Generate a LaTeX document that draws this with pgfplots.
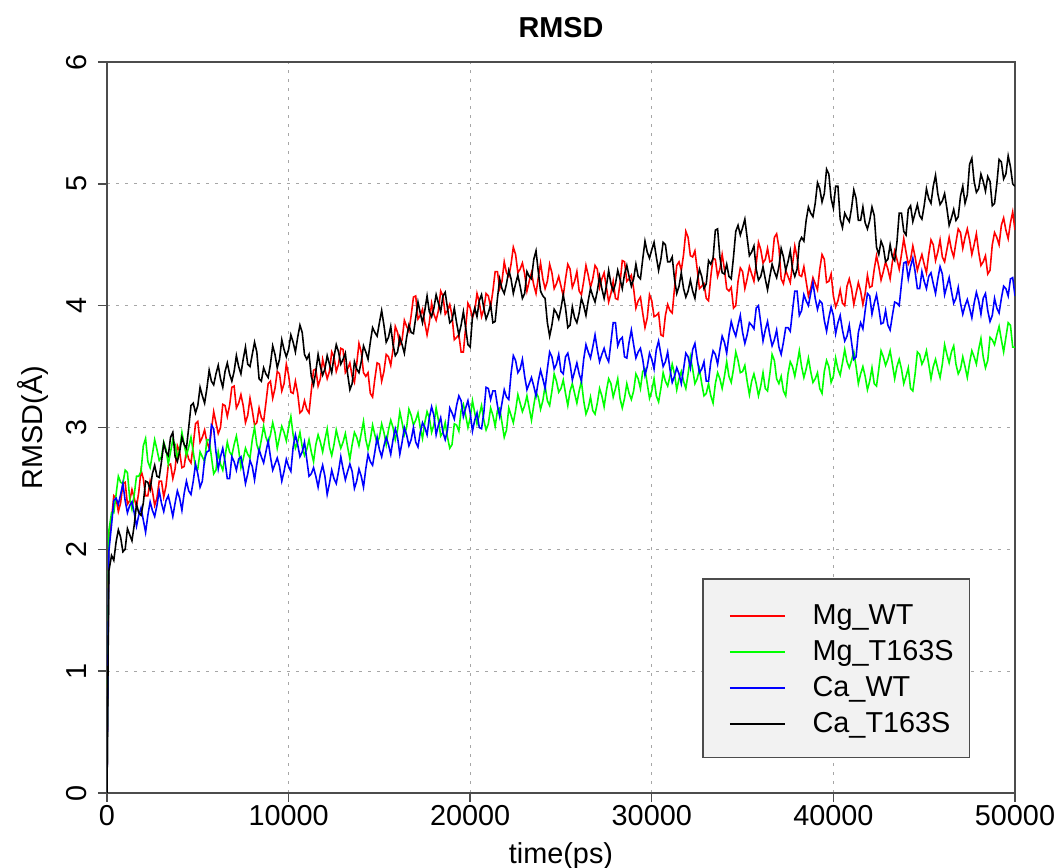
\documentclass[border=0pt]{standalone}
\usepackage{fontspec}
\setmainfont{Liberation Sans}
\usepackage{pgfplots}
\pgfplotsset{compat=1.18}
\newcommand\fsz{\fontsize{8.2pt}{9.84pt}\selectfont}
\begin{document}
\begin{tikzpicture}
\begin{axis}[
  at={(1.07cm,0.75cm)}, anchor=south west,
  scale only axis, width=9.08cm, height=7.31cm,
  xmin=0, xmax=50000, ymin=0, ymax=6,
  xtick={0,10000,20000,30000,40000,50000},
  ytick={0,1,2,3,4,5,6},
  scaled ticks=false,
  xticklabel={\pgfmathprintnumber[assume math mode=true,fixed,precision=0,1000 sep={}]{\tick}},
  yticklabel={\pgfmathprintnumber[assume math mode=true,fixed,precision=0]{\tick}},
  xtick pos=bottom, ytick pos=left,
  tick align=outside, major tick length=0.9mm,
  tick style={black!70, line width=0.4pt},
  axis line style={black!70, line width=0.4pt},
  xticklabel style={font=\fsz, anchor=north, inner sep=0pt, yshift=-0.3mm},
  yticklabel style={font=\fsz, rotate=90, anchor=south, inner sep=0pt, yshift=1.1mm},
  grid=major,
  major grid style={gray!70, line width=0.35pt, dash pattern=on 0.3mm off 0.6mm},
  title={RMSD},
  every axis title/.style={at={(axis description cs:0.5,1.0342)}, anchor=base, font=\fsz\bfseries},
  xlabel={time(ps)},
  xlabel style={at={(axis description cs:0.5,-0.0971)}, anchor=base, font=\fsz},
  ylabel={RMSD(Å)},
  ylabel style={at={(axis description cs:-0.0705,0.5)}, rotate=0, anchor=base, font=\fsz},
  legend style={at={(axis description cs:0.6564,0.2927)}, anchor=north west,
    fill=black!5, draw=black!70, line width=0.4pt,
    inner xsep=1.6mm, inner ysep=1.86mm, outer sep=0pt,
    row sep=0.3mm, column sep=2.7mm, font=\fsz,
    nodes={inner sep=0pt, text height=2.7mm, text depth=0.6mm, anchor=base west}},
  legend image code/.code={\path (0,0); \draw[#1, line width=0.5pt] (1mm,0.9mm) -- (6.5mm,0.9mm);},
  every axis plot/.append style={line width=0.45pt},
]
% Mg_WT
\addplot[red] coordinates {(0,0) (100,2.05) (250,2.25) (375,2.44) (500,2.42) (625,2.31) (750,2.38) (875,2.54) (1000,2.55) (1125,2.37) (1250,2.40) (1375,2.49) (1500,2.42) (1625,2.35) (1750,2.47) (1875,2.65) (2000,2.58) (2125,2.44) (2250,2.44) (2375,2.56) (2500,2.48) (2625,2.36) (2750,2.42) (2875,2.56) (3000,2.56) (3125,2.43) (3250,2.52) (3375,2.69) (3500,2.70) (3625,2.58) (3750,2.66) (3875,2.85) (4000,2.80) (4125,2.67) (4250,2.68) (4375,2.81) (4500,2.74) (4625,2.71) (4750,2.86) (4875,3.03) (5000,3.05) (5125,2.88) (5250,2.92) (5375,2.98) (5500,2.88) (5625,2.83) (5750,2.98) (5875,3.13) (6000,3.04) (6125,2.95) (6250,3.00) (6375,3.19) (6500,3.18) (6625,3.09) (6750,3.18) (6875,3.33) (7000,3.34) (7125,3.16) (7250,3.20) (7375,3.27) (7500,3.18) (7625,3.04) (7750,3.10) (7875,3.24) (8000,3.14) (8125,3.02) (8250,3.04) (8375,3.16) (8500,3.08) (8625,3.05) (8750,3.20) (8875,3.36) (9000,3.38) (9125,3.24) (9250,3.32) (9375,3.46) (9500,3.44) (9625,3.30) (9750,3.36) (9875,3.52) (10000,3.43) (10125,3.29) (10250,3.28) (10375,3.38) (10500,3.28) (10625,3.12) (10750,3.14) (10875,3.22) (11000,3.15) (11125,3.12) (11250,3.30) (11375,3.47) (11500,3.48) (11625,3.34) (11750,3.40) (11875,3.56) (12000,3.48) (12125,3.40) (12250,3.46) (12375,3.62) (12500,3.58) (12625,3.46) (12750,3.52) (12875,3.65) (13000,3.64) (13125,3.45) (13250,3.48) (13375,3.53) (13500,3.42) (13625,3.37) (13750,3.52) (13875,3.69) (14000,3.62) (14125,3.45) (14250,3.42) (14375,3.45) (14500,3.28) (14625,3.25) (14750,3.40) (14875,3.53) (15000,3.52) (15125,3.38) (15250,3.46) (15375,3.60) (15500,3.58) (15625,3.51) (15750,3.64) (15875,3.83) (16000,3.78) (16125,3.68) (16250,3.72) (16375,3.88) (16500,3.83) (16625,3.79) (16750,3.92) (16875,4.07) (17000,4.08) (17125,3.89) (17250,3.92) (17375,3.97) (17500,3.86) (17625,3.76) (17750,3.86) (17875,4.02) (18000,3.93) (18125,3.88) (18250,3.96) (18375,4.12) (18500,4.08) (18625,3.93) (18750,3.96) (18875,4.01) (19000,3.92) (19125,3.72) (19250,3.74) (19375,3.76) (19500,3.62) (19625,3.62) (19750,3.82) (19875,4.02) (20000,3.98) (20125,3.90) (20250,3.96) (20375,4.10) (20500,4.03) (20625,3.91) (20750,3.97) (20875,4.10) (21000,4.08) (21125,3.99) (21250,4.12) (21375,4.28) (21500,4.28) (21625,4.14) (21750,4.20) (21875,4.36) (22000,4.27) (22125,4.24) (22250,4.34) (22375,4.48) (22500,4.42) (22625,4.27) (22750,4.30) (22875,4.35) (23000,4.26) (23125,4.12) (23250,4.20) (23375,4.27) (23500,4.17) (23625,4.10) (23750,4.23) (23875,4.35) (24000,4.22) (24125,4.14) (24250,4.20) (24375,4.34) (24500,4.27) (24625,4.14) (24750,4.18) (24875,4.24) (25000,4.16) (25125,4.08) (25250,4.22) (25375,4.34) (25500,4.30) (25625,4.15) (25750,4.20) (25875,4.28) (26000,4.12) (26125,4.09) (26250,4.20) (26375,4.33) (26500,4.25) (26625,4.15) (26750,4.22) (26875,4.33) (27000,4.30) (27125,4.15) (27250,4.22) (27375,4.27) (27500,4.15) (27625,4.03) (27750,4.10) (27875,4.20) (28000,4.06) (28125,4.05) (28250,4.18) (28375,4.37) (28500,4.36) (28625,4.20) (28750,4.22) (28875,4.25) (29000,4.14) (29125,3.98) (29250,4.04) (29375,4.07) (29500,3.94) (29625,3.82) (29750,3.90) (29875,4.09) (30000,4.04) (30125,3.91) (30250,3.92) (30375,3.94) (30500,3.76) (30625,3.75) (30750,3.92) (30875,4.01) (31000,3.96) (31125,3.94) (31250,4.14) (31375,4.33) (31500,4.36) (31625,4.29) (31750,4.42) (31875,4.61) (32000,4.56) (32125,4.41) (32250,4.40) (32375,4.45) (32500,4.30) (32625,4.14) (32750,4.16) (32875,4.18) (33000,4.06) (33125,4.04) (33250,4.24) (33375,4.39) (33500,4.38) (33625,4.24) (33750,4.30) (33875,4.42) (34000,4.30) (34125,4.14) (34250,4.12) (34375,4.15) (34500,3.98) (34625,4.00) (34750,4.20) (34875,4.31) (35000,4.28) (35125,4.14) (35250,4.22) (35375,4.32) (35500,4.26) (35625,4.20) (35750,4.34) (35875,4.52) (36000,4.46) (36125,4.35) (36250,4.38) (36375,4.47) (36500,4.36) (36625,4.37) (36750,4.56) (36875,4.59) (37000,4.48) (37125,4.22) (37250,4.18) (37375,4.29) (37500,4.24) (37625,4.19) (37750,4.34) (37875,4.49) (38000,4.40) (38125,4.25) (38250,4.24) (38375,4.32) (38500,4.20) (38625,4.08) (38750,4.14) (38875,4.23) (39000,4.18) (39125,4.13) (39250,4.30) (39375,4.42) (39500,4.38) (39625,4.19) (39750,4.20) (39875,4.26) (40000,4.08) (40125,3.99) (40250,4.04) (40375,4.13) (40500,4.02) (40625,4.00) (40750,4.16) (40875,4.22) (41000,4.14) (41125,4.01) (41250,4.10) (41375,4.19) (41500,4.12) (41625,4.01) (41750,4.10) (41875,4.25) (42000,4.15) (42125,4.16) (42250,4.30) (42375,4.41) (42500,4.32) (42625,4.21) (42750,4.28) (42875,4.36) (43000,4.30) (43125,4.22) (43250,4.36) (43375,4.45) (43500,4.38) (43625,4.30) (43750,4.42) (43875,4.55) (44000,4.44) (44125,4.34) (44250,4.38) (44375,4.49) (44500,4.40) (44625,4.29) (44750,4.36) (44875,4.42) (45000,4.34) (45125,4.27) (45250,4.42) (45375,4.54) (45500,4.50) (45625,4.37) (45750,4.44) (45875,4.54) (46000,4.40) (46125,4.36) (46250,4.46) (46375,4.56) (46500,4.46) (46625,4.40) (46750,4.52) (46875,4.63) (47000,4.60) (47125,4.47) (47250,4.56) (47375,4.63) (47500,4.54) (47625,4.42) (47750,4.50) (47875,4.59) (48000,4.44) (48125,4.33) (48250,4.36) (48375,4.41) (48500,4.26) (48625,4.29) (48750,4.50) (48875,4.60) (49000,4.56) (49125,4.50) (49250,4.66) (49375,4.72) (49500,4.62) (49625,4.55) (49750,4.68) (49875,4.77) (50000,4.62)};
\addlegendentry{Mg\_WT}
% Mg_T163S
\addplot[green] coordinates {(0,0) (100,2.15) (250,2.30) (375,2.30) (500,2.45) (625,2.60) (750,2.55) (875,2.54) (1000,2.65) (1125,2.63) (1250,2.42) (1375,2.33) (1500,2.45) (1625,2.60) (1750,2.60) (1875,2.64) (2000,2.85) (2125,2.91) (2250,2.72) (2375,2.67) (2500,2.78) (2625,2.90) (2750,2.82) (2875,2.73) (3000,2.76) (3125,2.88) (3250,2.82) (3375,2.70) (3500,2.80) (3625,2.90) (3750,2.86) (3875,2.75) (4000,2.82) (4125,2.96) (4250,2.86) (4375,2.77) (4500,2.84) (4625,2.92) (4750,2.80) (4875,2.67) (5000,2.66) (5125,2.80) (5250,2.76) (5375,2.72) (5500,2.90) (5625,2.90) (5750,2.76) (5875,2.62) (6000,2.65) (6125,2.80) (6250,2.70) (6375,2.65) (6500,2.76) (6625,2.88) (6750,2.80) (6875,2.77) (7000,2.86) (7125,2.93) (7250,2.82) (7375,2.67) (7500,2.74) (7625,2.83) (7750,2.78) (7875,2.75) (8000,2.90) (8125,3.00) (8250,2.86) (8375,2.80) (8500,2.90) (8625,3.01) (8750,2.92) (8875,2.87) (9000,2.94) (9125,3.04) (9250,2.96) (9375,2.83) (9500,2.92) (9625,3.01) (9750,2.96) (9875,2.89) (10000,3.00) (10125,3.09) (10250,2.94) (10375,2.83) (10500,2.88) (10625,2.96) (10750,2.84) (10875,2.77) (11000,2.82) (11125,2.90) (11250,2.80) (11375,2.72) (11500,2.86) (11625,2.94) (11750,2.88) (11875,2.80) (12000,2.90) (12125,2.99) (12250,2.84) (12375,2.77) (12500,2.86) (12625,2.98) (12750,2.90) (12875,2.83) (13000,2.88) (13125,2.95) (13250,2.84) (13375,2.74) (13500,2.86) (13625,2.96) (13750,2.92) (13875,2.85) (14000,2.95) (14125,3.05) (14250,2.90) (14375,2.82) (14500,2.90) (14625,3.02) (14750,2.94) (14875,2.87) (15000,2.92) (15125,3.03) (15250,2.96) (15375,2.86) (15500,2.98) (15625,3.06) (15750,3.00) (15875,2.90) (16000,2.98) (16125,3.13) (16250,3.04) (16375,2.94) (16500,3.00) (16625,3.15) (16750,3.10) (16875,3.02) (17000,3.06) (17125,3.12) (17250,3.00) (17375,2.91) (17500,3.04) (17625,3.13) (17750,3.08) (17875,2.96) (18000,3.02) (18125,3.16) (18250,3.06) (18375,2.93) (18500,2.96) (18625,3.04) (18750,2.92) (18875,2.83) (19000,2.86) (19125,3.03) (19250,3.02) (19375,2.97) (19500,3.14) (19625,3.19) (19750,3.10) (19875,3.00) (20000,3.08) (20125,3.22) (20250,3.12) (20375,3.03) (20500,3.10) (20625,3.18) (20750,3.06) (20875,2.98) (21000,3.03) (21125,3.16) (21250,3.10) (21375,3.01) (21500,3.14) (21625,3.16) (21750,3.04) (21875,2.92) (22000,2.98) (22125,3.16) (22250,3.10) (22375,3.04) (22500,3.14) (22625,3.27) (22750,3.20) (22875,3.13) (23000,3.18) (23125,3.26) (23250,3.16) (23375,3.06) (23500,3.18) (23625,3.29) (23750,3.25) (23875,3.15) (24000,3.22) (24125,3.34) (24250,3.22) (24375,3.18) (24500,3.30) (24625,3.44) (24750,3.38) (24875,3.29) (25000,3.32) (25125,3.39) (25250,3.28) (25375,3.18) (25500,3.30) (25625,3.36) (25750,3.28) (25875,3.20) (26000,3.30) (26125,3.38) (26250,3.22) (26375,3.11) (26500,3.16) (26625,3.25) (26750,3.14) (26875,3.11) (27000,3.20) (27125,3.32) (27250,3.26) (27375,3.17) (27500,3.30) (27625,3.40) (27750,3.36) (27875,3.25) (28000,3.32) (28125,3.40) (28250,3.24) (28375,3.16) (28500,3.24) (28625,3.36) (28750,3.28) (28875,3.23) (29000,3.30) (29125,3.44) (29250,3.40) (29375,3.32) (29500,3.46) (29625,3.48) (29750,3.36) (29875,3.24) (30000,3.30) (30125,3.40) (30250,3.26) (30375,3.21) (30500,3.32) (30625,3.45) (30750,3.38) (30875,3.34) (31000,3.42) (31125,3.52) (31250,3.44) (31375,3.31) (31500,3.40) (31625,3.46) (31750,3.38) (31875,3.32) (32000,3.44) (32125,3.58) (32250,3.48) (32375,3.36) (32500,3.40) (32625,3.48) (32750,3.36) (32875,3.26) (33000,3.28) (33125,3.36) (33250,3.26) (33375,3.20) (33500,3.36) (33625,3.45) (33750,3.40) (33875,3.32) (34000,3.42) (34125,3.54) (34250,3.42) (34375,3.37) (34500,3.48) (34625,3.62) (34750,3.55) (34875,3.45) (35000,3.46) (35125,3.51) (35250,3.38) (35375,3.27) (35500,3.38) (35625,3.44) (35750,3.36) (35875,3.26) (36000,3.34) (36125,3.45) (36250,3.32) (36375,3.30) (36500,3.44) (36625,3.60) (36750,3.55) (36875,3.40) (37000,3.36) (37125,3.42) (37250,3.30) (37375,3.26) (37500,3.44) (37625,3.54) (37750,3.50) (37875,3.42) (38000,3.52) (38125,3.63) (38250,3.50) (38375,3.41) (38500,3.48) (38625,3.57) (38750,3.46) (38875,3.37) (39000,3.40) (39125,3.45) (39250,3.32) (39375,3.28) (39500,3.46) (39625,3.55) (39750,3.50) (39875,3.37) (40000,3.42) (40125,3.57) (40250,3.48) (40375,3.43) (40500,3.53) (40625,3.64) (40750,3.54) (40875,3.49) (41000,3.55) (41125,3.62) (41250,3.50) (41375,3.36) (41500,3.44) (41625,3.50) (41750,3.42) (41875,3.31) (42000,3.38) (42125,3.49) (42250,3.36) (42375,3.34) (42500,3.48) (42625,3.63) (42750,3.58) (42875,3.51) (43000,3.56) (43125,3.63) (43250,3.52) (43375,3.40) (43500,3.50) (43625,3.56) (43750,3.48) (43875,3.36) (44000,3.42) (44125,3.49) (44250,3.32) (44375,3.30) (44500,3.44) (44625,3.62) (44750,3.60) (44875,3.52) (45000,3.56) (45125,3.63) (45250,3.52) (45375,3.40) (45500,3.50) (45625,3.56) (45750,3.48) (45875,3.41) (46000,3.52) (46125,3.68) (46250,3.60) (46375,3.53) (46500,3.62) (46625,3.67) (46750,3.52) (46875,3.44) (47000,3.48) (47125,3.58) (47250,3.50) (47375,3.41) (47500,3.53) (47625,3.63) (47750,3.58) (47875,3.52) (48000,3.64) (48125,3.73) (48250,3.58) (48375,3.49) (48500,3.55) (48625,3.74) (48750,3.72) (48875,3.68) (49000,3.76) (49125,3.83) (49250,3.72) (49375,3.62) (49500,3.74) (49625,3.86) (49750,3.84) (49875,3.66) (50000,3.66)};
\addlegendentry{Mg\_T163S}
% Ca_WT
\addplot[blue] coordinates {(0,0) (100,1.98) (250,2.20) (375,2.40) (500,2.42) (625,2.37) (750,2.45) (875,2.54) (1000,2.40) (1125,2.30) (1250,2.36) (1375,2.39) (1500,2.30) (1625,2.19) (1750,2.28) (1875,2.34) (2000,2.24) (2125,2.14) (2250,2.28) (2375,2.39) (2500,2.32) (2625,2.27) (2750,2.36) (2875,2.48) (3000,2.38) (3125,2.31) (3250,2.40) (3375,2.44) (3500,2.36) (3625,2.27) (3750,2.38) (3875,2.48) (4000,2.42) (4125,2.32) (4250,2.46) (4375,2.56) (4500,2.48) (4625,2.45) (4750,2.56) (4875,2.70) (5000,2.62) (5125,2.51) (5250,2.56) (5375,2.74) (5500,2.80) (5625,2.81) (5750,3.02) (5875,2.99) (6000,2.80) (6125,2.66) (6250,2.76) (6375,2.83) (6500,2.72) (6625,2.58) (6750,2.58) (6875,2.76) (7000,2.72) (7125,2.65) (7250,2.74) (7375,2.76) (7500,2.66) (7625,2.54) (7750,2.62) (7875,2.73) (8000,2.68) (8125,2.57) (8250,2.70) (8375,2.82) (8500,2.76) (8625,2.71) (8750,2.80) (8875,2.89) (9000,2.76) (9125,2.65) (9250,2.70) (9375,2.75) (9500,2.68) (9625,2.56) (9750,2.64) (9875,2.74) (10000,2.68) (10125,2.64) (10250,2.84) (10375,2.94) (10500,2.86) (10625,2.76) (10750,2.80) (10875,2.88) (11000,2.74) (11125,2.60) (11250,2.62) (11375,2.67) (11500,2.60) (11625,2.51) (11750,2.62) (11875,2.69) (12000,2.60) (12125,2.45) (12250,2.54) (12375,2.65) (12500,2.58) (12625,2.54) (12750,2.64) (12875,2.76) (13000,2.66) (13125,2.57) (13250,2.64) (13375,2.70) (13500,2.64) (13625,2.50) (13750,2.56) (13875,2.66) (14000,2.60) (14125,2.51) (14250,2.66) (14375,2.78) (14500,2.72) (14625,2.69) (14750,2.80) (14875,2.92) (15000,2.82) (15125,2.76) (15250,2.85) (15375,2.92) (15500,2.86) (15625,2.78) (15750,2.90) (15875,2.99) (16000,2.92) (16125,2.78) (16250,2.88) (16375,3.00) (16500,2.94) (16625,2.85) (16750,2.90) (16875,3.00) (17000,2.88) (17125,2.84) (17250,2.96) (17375,3.04) (17500,3.00) (17625,2.94) (17750,3.08) (17875,3.17) (18000,3.10) (18125,2.94) (18250,3.02) (18375,3.08) (18500,2.96) (18625,2.90) (18750,2.98) (18875,3.16) (19000,3.12) (19125,3.07) (19250,3.18) (19375,3.26) (19500,3.22) (19625,3.09) (19750,3.16) (19875,3.22) (20000,3.12) (20125,2.97) (20250,3.06) (20375,3.12) (20500,3.00) (20625,2.99) (20750,3.12) (20875,3.33) (21000,3.32) (21125,3.23) (21250,3.30) (21375,3.30) (21500,3.18) (21625,3.09) (21750,3.20) (21875,3.31) (22000,3.25) (22125,3.23) (22250,3.44) (22375,3.59) (22500,3.55) (22625,3.45) (22750,3.48) (22875,3.56) (23000,3.42) (23125,3.31) (23250,3.36) (23375,3.41) (23500,3.34) (23625,3.26) (23750,3.38) (23875,3.47) (24000,3.40) (24125,3.32) (24250,3.48) (24375,3.62) (24500,3.58) (24625,3.48) (24750,3.52) (24875,3.60) (25000,3.46) (25125,3.44) (25250,3.58) (25375,3.61) (25500,3.52) (25625,3.39) (25750,3.46) (25875,3.53) (26000,3.44) (26125,3.38) (26250,3.56) (26375,3.68) (26500,3.62) (26625,3.57) (26750,3.66) (26875,3.76) (27000,3.64) (27125,3.54) (27250,3.60) (27375,3.65) (27500,3.58) (27625,3.54) (27750,3.70) (27875,3.86) (28000,3.86) (28125,3.67) (28250,3.72) (28375,3.74) (28500,3.58) (28625,3.57) (28750,3.70) (28875,3.80) (29000,3.68) (29125,3.57) (29250,3.62) (29375,3.65) (29500,3.56) (29625,3.43) (29750,3.50) (29875,3.61) (30000,3.56) (30125,3.48) (30250,3.64) (30375,3.71) (30500,3.60) (30625,3.50) (30750,3.54) (30875,3.62) (31000,3.48) (31125,3.37) (31250,3.42) (31375,3.49) (31500,3.44) (31625,3.36) (31750,3.48) (31875,3.61) (32000,3.58) (32125,3.49) (32250,3.64) (32375,3.69) (32500,3.56) (32625,3.45) (32750,3.48) (32875,3.54) (33000,3.38) (33125,3.38) (33250,3.54) (33375,3.63) (33500,3.60) (33625,3.52) (33750,3.64) (33875,3.75) (34000,3.70) (34125,3.61) (34250,3.76) (34375,3.87) (34500,3.80) (34625,3.75) (34750,3.84) (34875,3.92) (35000,3.78) (35125,3.69) (35250,3.76) (35375,3.86) (35500,3.84) (35625,3.81) (35750,3.98) (35875,4.00) (36000,3.86) (36125,3.71) (36250,3.80) (36375,3.87) (36500,3.76) (36625,3.67) (36750,3.72) (36875,3.80) (37000,3.66) (37125,3.60) (37250,3.70) (37375,3.82) (37500,3.82) (37625,3.79) (37750,3.96) (37875,4.12) (38000,4.12) (38125,3.92) (38250,3.96) (38375,4.09) (38500,4.04) (38625,4.00) (38750,4.10) (38875,4.19) (39000,4.06) (39125,3.97) (39250,4.04) (39375,4.02) (39500,3.88) (39625,3.79) (39750,3.90) (39875,3.99) (40000,3.92) (40125,3.77) (40250,3.86) (40375,3.92) (40500,3.80) (40625,3.71) (40750,3.75) (40875,3.84) (41000,3.70) (41125,3.56) (41250,3.58) (41375,3.78) (41500,3.86) (41625,3.81) (41750,3.96) (41875,4.10) (42000,4.08) (42125,3.93) (42250,4.02) (42375,4.09) (42500,3.98) (42625,3.85) (42750,3.86) (42875,3.96) (43000,3.84) (43125,3.80) (43250,3.92) (43375,4.03) (43500,4.02) (43625,4.00) (43750,4.18) (43875,4.35) (44000,4.36) (44125,4.22) (44250,4.32) (44375,4.39) (44500,4.28) (44625,4.14) (44750,4.14) (44875,4.28) (45000,4.20) (45125,4.14) (45250,4.24) (45375,4.27) (45500,4.18) (45625,4.10) (45750,4.22) (45875,4.32) (46000,4.26) (46125,4.09) (46250,4.16) (46375,4.23) (46500,4.12) (46625,4.02) (46750,4.06) (46875,4.15) (47000,4.02) (47125,3.93) (47250,4.00) (47375,4.05) (47500,3.98) (47625,3.90) (47750,4.02) (47875,4.11) (48000,4.04) (48125,3.93) (48250,4.06) (48375,4.10) (48500,3.96) (48625,3.87) (48750,3.92) (48875,4.06) (49000,3.98) (49125,3.94) (49250,4.06) (49375,4.16) (49500,4.14) (49625,4.08) (49750,4.22) (49875,4.23) (50000,4.08)};
\addlegendentry{Ca\_WT}
% Ca_T163S
\addplot[black] coordinates {(0,0) (100,1.82) (250,1.95) (375,1.91) (500,2.06) (625,2.16) (750,2.10) (875,1.98) (1000,2.00) (1125,2.17) (1250,2.12) (1375,2.07) (1500,2.20) (1625,2.37) (1750,2.30) (1875,2.28) (2000,2.38) (2125,2.56) (2250,2.55) (2375,2.49) (2500,2.62) (2625,2.69) (2750,2.60) (2875,2.59) (3000,2.72) (3125,2.87) (3250,2.80) (3375,2.77) (3500,2.92) (3625,2.96) (3750,2.76) (3875,2.72) (4000,2.80) (4125,2.92) (4250,2.86) (4375,2.83) (4500,3.00) (4625,3.18) (4750,3.20) (4875,3.12) (5000,3.18) (5125,3.33) (5250,3.26) (5375,3.20) (5500,3.32) (5625,3.47) (5750,3.38) (5875,3.35) (6000,3.44) (6125,3.51) (6250,3.40) (6375,3.33) (6500,3.46) (6625,3.53) (6750,3.44) (6875,3.38) (7000,3.46) (7125,3.59) (7250,3.50) (7375,3.44) (7500,3.56) (7625,3.66) (7750,3.52) (7875,3.50) (8000,3.60) (8125,3.70) (8250,3.62) (8375,3.40) (8500,3.38) (8625,3.49) (8750,3.44) (8875,3.41) (9000,3.52) (9125,3.67) (9250,3.60) (9375,3.49) (9500,3.56) (9625,3.72) (9750,3.64) (9875,3.58) (10000,3.64) (10125,3.76) (10250,3.70) (10375,3.62) (10500,3.74) (10625,3.84) (10750,3.78) (10875,3.60) (11000,3.56) (11125,3.60) (11250,3.42) (11375,3.35) (11500,3.46) (11625,3.60) (11750,3.50) (11875,3.43) (12000,3.48) (12125,3.59) (12250,3.52) (12375,3.45) (12500,3.58) (12625,3.68) (12750,3.62) (12875,3.52) (13000,3.56) (13125,3.61) (13250,3.44) (13375,3.31) (13500,3.36) (13625,3.54) (13750,3.48) (13875,3.45) (14000,3.54) (14125,3.67) (14250,3.62) (14375,3.56) (14500,3.70) (14625,3.82) (14750,3.78) (14875,3.75) (15000,3.86) (15125,3.96) (15250,3.84) (15375,3.70) (15500,3.74) (15625,3.83) (15750,3.68) (15875,3.59) (16000,3.62) (16125,3.74) (16250,3.68) (16375,3.61) (16500,3.74) (16625,3.84) (16750,3.78) (16875,3.77) (17000,3.90) (17125,4.03) (17250,3.94) (17375,3.86) (17500,3.96) (17625,4.08) (17750,3.95) (17875,3.91) (18000,3.98) (18125,4.09) (18250,4.02) (18375,3.95) (18500,4.08) (18625,4.11) (18750,3.98) (18875,3.86) (19000,3.88) (19125,3.98) (19250,3.86) (19375,3.76) (19500,3.84) (19625,3.95) (19750,3.82) (19875,3.68) (20000,3.66) (20125,3.91) (20250,3.98) (20375,3.91) (20500,4.04) (20625,4.09) (20750,3.98) (20875,3.89) (21000,3.94) (21125,4.01) (21250,3.86) (21375,3.87) (21500,4.06) (21625,4.22) (21750,4.14) (21875,4.10) (22000,4.18) (22125,4.29) (22250,4.22) (22375,4.10) (22500,4.18) (22625,4.25) (22750,4.16) (22875,4.06) (23000,4.10) (23125,4.28) (23250,4.24) (23375,4.22) (23500,4.38) (23625,4.45) (23750,4.28) (23875,4.12) (24000,4.08) (24125,4.06) (24250,3.86) (24375,3.75) (24500,3.84) (24625,3.97) (24750,3.94) (24875,3.89) (25000,3.98) (25125,4.09) (25250,3.98) (25375,3.82) (25500,3.84) (25625,3.99) (25750,3.90) (25875,3.86) (26000,3.94) (26125,4.06) (26250,4.00) (26375,3.92) (26500,4.04) (26625,4.14) (26750,4.08) (26875,4.03) (27000,4.12) (27125,4.24) (27250,4.14) (27375,4.06) (27500,4.16) (27625,4.29) (27750,4.18) (27875,4.12) (28000,4.18) (28125,4.29) (28250,4.22) (28375,4.14) (28500,4.26) (28625,4.33) (28750,4.24) (28875,4.16) (29000,4.22) (29125,4.34) (29250,4.24) (29375,4.22) (29500,4.38) (29625,4.53) (29750,4.44) (29875,4.39) (30000,4.46) (30125,4.52) (30250,4.40) (30375,4.29) (30500,4.38) (30625,4.52) (30750,4.50) (30875,4.36) (31000,4.36) (31125,4.40) (31250,4.22) (31375,4.10) (31500,4.16) (31625,4.27) (31750,4.14) (31875,4.07) (32000,4.12) (32125,4.21) (32250,4.12) (32375,4.06) (32500,4.20) (32625,4.30) (32750,4.24) (32875,4.14) (33000,4.18) (33125,4.37) (33250,4.34) (33375,4.39) (33500,4.62) (33625,4.63) (33750,4.40) (33875,4.27) (34000,4.26) (34125,4.34) (34250,4.24) (34375,4.22) (34500,4.40) (34625,4.61) (34750,4.66) (34875,4.58) (35000,4.64) (35125,4.71) (35250,4.56) (35375,4.41) (35500,4.44) (35625,4.49) (35750,4.30) (35875,4.21) (36000,4.24) (36125,4.32) (36250,4.22) (36375,4.13) (36500,4.24) (36625,4.34) (36750,4.28) (36875,4.23) (37000,4.32) (37125,4.47) (37250,4.40) (37375,4.29) (37500,4.36) (37625,4.45) (37750,4.30) (37875,4.24) (38000,4.30) (38125,4.52) (38250,4.56) (38375,4.53) (38500,4.70) (38625,4.81) (38750,4.76) (38875,4.73) (39000,4.84) (39125,5.01) (39250,4.96) (39375,4.85) (39500,4.92) (39625,5.12) (39750,5.08) (39875,4.88) (40000,4.80) (40125,4.98) (40250,4.98) (40375,4.71) (40500,4.64) (40625,4.76) (40750,4.72) (40875,4.69) (41000,4.80) (41125,4.95) (41250,4.88) (41375,4.70) (41500,4.70) (41625,4.81) (41750,4.68) (41875,4.63) (42000,4.70) (42125,4.81) (42250,4.74) (42375,4.48) (42500,4.42) (42625,4.53) (42750,4.48) (42875,4.36) (43000,4.38) (43125,4.50) (43250,4.40) (43375,4.37) (43500,4.52) (43625,4.76) (43750,4.76) (43875,4.61) (44000,4.58) (44125,4.79) (44250,4.82) (44375,4.69) (44500,4.76) (44625,4.83) (44750,4.74) (44875,4.71) (45000,4.82) (45125,4.96) (45250,4.88) (45375,4.84) (45500,4.98) (45625,5.07) (45750,4.92) (45875,4.83) (46000,4.86) (46125,4.92) (46250,4.80) (46375,4.66) (46500,4.72) (46625,4.79) (46750,4.70) (46875,4.73) (47000,4.90) (47125,4.98) (47250,4.84) (47375,4.91) (47500,5.16) (47625,5.21) (47750,5.02) (47875,4.93) (48000,4.96) (48125,5.08) (48250,5.02) (48375,4.94) (48500,5.06) (48625,5.02) (48750,4.82) (48875,4.84) (49000,5.00) (49125,5.20) (49250,5.18) (49375,5.04) (49500,5.08) (49625,5.23) (49750,5.14) (49875,5.00) (50000,4.98)};
\addlegendentry{Ca\_T163S}
\end{axis}
\pgfresetboundingbox
\path (0,0) rectangle (10.58cm,8.68cm);
\end{tikzpicture}
\end{document}
